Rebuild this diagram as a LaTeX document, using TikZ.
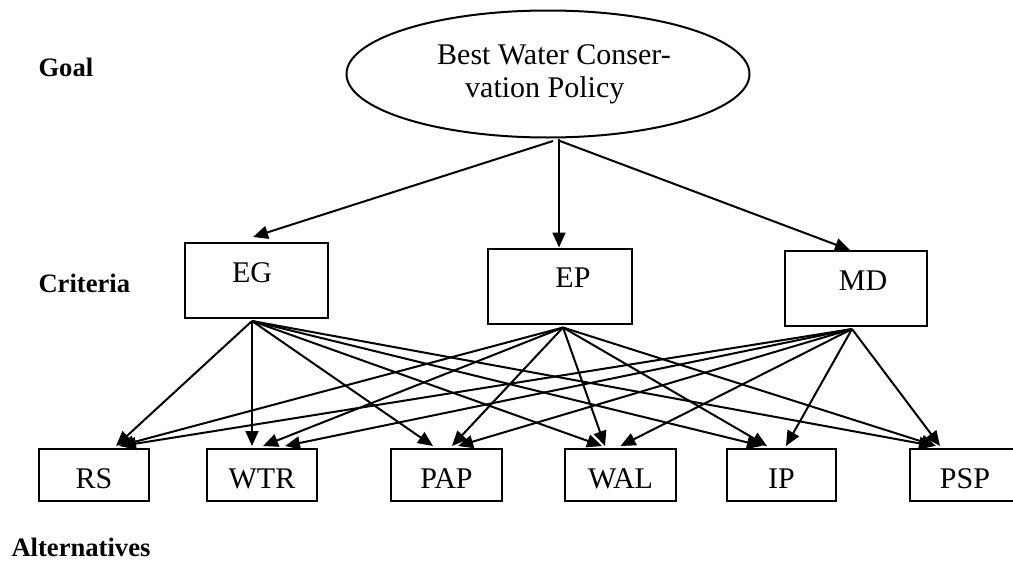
\documentclass[tikz,border=0pt]{standalone}
\usepackage{fontspec}
\setmainfont{Liberation Serif}
\usetikzlibrary{arrows.meta,shapes.geometric}
\begin{document}
\begin{tikzpicture}[x=1pt,y=-1pt,
  every node/.style={font=\fontsize{30}{33}\selectfont},
  levellabel/.style={anchor=base west, font=\fontsize{26.6}{30}\selectfont\bfseries},
  goalnode/.style={draw, ellipse, line width=2pt, minimum width=403pt, minimum height=127pt, inner sep=0pt, align=left},
  critbox/.style={draw, rectangle, line width=2pt, inner xsep=0pt, inner ysep=0pt, text height=39pt, text depth=36pt},
  altbox/.style={draw, rectangle, line width=2pt, inner xsep=0pt, inner ysep=0pt, text height=39pt, text depth=13pt},
  arr/.style={line width=2pt, -{Triangle[length=15pt,width=13pt]}}
]
\useasboundingbox (0,0) rectangle (1013,565);

% level labels
\node[levellabel] (lgoal) at (35,76) {Goal};
\node[levellabel] (lcrit) at (35,292) {Criteria};
\node[levellabel] (lalt) at (8,556) {Alternatives};

% goal
\node[goalnode] (G) at (548,74) {\hspace*{12pt}Best Water Conser-\\\hspace*{40pt}vation Policy};

% criteria
\node[critbox, minimum width=143pt] (EG) at (256.5,280.5) {EG\hspace*{9pt}};
\node[critbox, minimum width=144pt] (EP) at (560,286) {\hspace*{26pt}EP};
\node[critbox, minimum width=142pt] (MD) at (856,288.5) {\hspace*{14pt}MD};

% alternatives
\node[altbox, minimum width=110pt] (RS) at (94,475) {RS};
\node[altbox, minimum width=110pt] (WTR) at (262,475) {WTR};
\node[altbox, minimum width=111pt] (PAP) at (446.5,475) {PAP};
\node[altbox, minimum width=111pt] (WAL) at (620.5,475) {WAL};
\node[altbox, minimum width=109pt] (IP) at (781.5,475) {IP};
\node[altbox, minimum width=110pt] (PSP) at (965,475) {PSP};

% goal to criteria
\draw[arr] ([xshift=5pt,yshift=-2.5pt]G.south) -- ([xshift=-3.5pt,yshift=5pt]EG.north);
\draw[arr] ([xshift=11pt]G.south) -- ([xshift=-1pt]EP.north);
\draw[arr] ([xshift=12pt,yshift=-2.5pt]G.south) -- ([xshift=-6pt]MD.north);

% EG to alternatives
\draw[arr] ([xshift=-4.5pt,yshift=-2pt]EG.south) -- ([xshift=22pt,yshift=2pt]RS.north);
\draw[arr] ([xshift=-4.5pt,yshift=-2pt]EG.south) -- ([xshift=-10pt,yshift=2pt]WTR.north);
\draw[arr] ([xshift=-4.5pt,yshift=-2pt]EG.south) -- ([xshift=-13.5pt,yshift=2pt]PAP.north);
\draw[arr] ([xshift=-4.5pt,yshift=-2pt]EG.south) -- ([xshift=-18.5pt,yshift=2pt]WAL.north);
\draw[arr] ([xshift=-4.5pt,yshift=-2pt]EG.south) -- ([xshift=-19.5pt,yshift=2pt]IP.north);
\draw[arr] ([xshift=-4.5pt,yshift=-2pt]EG.south) -- ([xshift=-31pt,yshift=2pt]PSP.north);

% EP to alternatives
\draw[arr] ([xshift=3pt,yshift=-3pt]EP.south) -- ([xshift=25pt,yshift=2pt]RS.north);
\draw[arr] ([xshift=3pt,yshift=-3pt]EP.south) -- ([xshift=1pt,yshift=2pt]WTR.north);
\draw[arr] ([xshift=3pt,yshift=-3pt]EP.south) -- ([xshift=5.5pt,yshift=2pt]PAP.north);
\draw[arr] ([xshift=3pt,yshift=-3pt]EP.south) -- ([xshift=-15.5pt,yshift=2pt]WAL.north);
\draw[arr] ([xshift=3pt,yshift=-3pt]EP.south) -- ([xshift=-14.5pt,yshift=2pt]IP.north);
\draw[arr] ([xshift=3pt,yshift=-3pt]EP.south) -- ([xshift=-29pt,yshift=2pt]PSP.north);

% MD to alternatives
\draw[arr] ([xshift=-4pt,yshift=-2pt]MD.south) -- ([xshift=27pt,yshift=2pt]RS.north);
\draw[arr] ([xshift=-4pt,yshift=-2pt]MD.south) -- ([xshift=23pt,yshift=2pt]WTR.north);
\draw[arr] ([xshift=-4pt,yshift=-2pt]MD.south) -- ([xshift=11.5pt,yshift=2pt]PAP.north);
\draw[arr] ([xshift=-4pt,yshift=-2pt]MD.south) -- ([xshift=0pt,yshift=2pt]WAL.north);
\draw[arr] ([xshift=-4pt,yshift=-2pt]MD.south) -- ([xshift=4.5pt,yshift=2pt]IP.north);
\draw[arr] ([xshift=-4pt,yshift=-2pt]MD.south) -- ([xshift=-25pt,yshift=2pt]PSP.north);
\end{tikzpicture}
\end{document}
